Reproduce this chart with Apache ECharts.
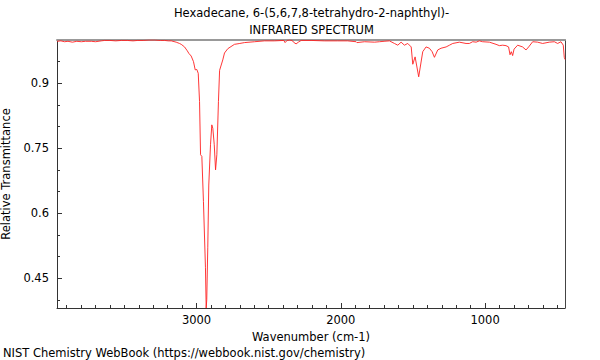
<!DOCTYPE html>
<html>
<head>
<meta charset="utf-8">
<script src="https://cdn.jsdelivr.net/npm/echarts@6/dist/echarts.min.js"></script>
<style>
html,body{margin:0;padding:0;background:#fff;}
#c{width:600px;height:360px;}
</style>
</head>
<body>
<div id="c"></div>
<script>
const titleLines = ["Hexadecane, 6-(5,6,7,8-tetrahydro-2-naphthyl)-", "INFRARED SPECTRUM"];
const footer = "NIST Chemistry WebBook (https://webbook.nist.gov/chemistry)";
const xName = "Wavenumber (cm-1)";
const yName = "Relative Transmittance";

const wavenumbers = [3967,3940,3915,3891,3860,3830,3798,3770,3729,3700,3660,3637,3600,3560,3521,3480,3440,3407,3370,3330,3291,3250,3222,3195,3175,3141,3118,3106,3083,3064,3053,3037,3021,3009,2998,2988,2979,2972,2963,2952,2938,2933,2929,2922,2915,2903,2894,2887,2877,2868,2859,2848,2840,2818,2806,2783,2737,2700,2668,2598,2529,2460,2395,2386,2372,2354,2337,2328,2310,2294,2275,2206,2114,2022,1953,1894,1888,1836,1766,1732,1700,1663,1628,1605,1582,1559,1536,1512,1501,1485,1460,1432,1409,1386,1367,1351,1328,1305,1270,1247,1224,1178,1132,1109,1086,1062,1040,1017,970,924,901,878,855,837,827,818,809,799,774,740,716,698,670,636,601,555,520,497,474,458,451,446];
const transmittance = [0.997,0.998,0.996,0.997,0.995,0.997,0.996,0.997,0.997,0.996,0.998,0.999,0.999,0.998,0.999,0.999,0.998,0.999,0.999,1.000,1.000,0.999,0.999,0.998,0.998,0.995,0.992,0.990,0.984,0.975,0.969,0.963,0.950,0.931,0.932,0.923,0.858,0.735,0.731,0.627,0.474,0.381,0.40,0.520,0.665,0.758,0.804,0.796,0.758,0.700,0.735,0.858,0.930,0.954,0.970,0.980,0.990,0.992,0.994,0.996,0.998,0.998,0.999,0.994,0.999,1.000,0.999,0.995,0.991,0.995,0.999,0.999,0.998,0.998,0.998,0.996,0.994,0.996,0.995,0.996,0.997,0.998,0.992,0.988,0.995,0.988,0.992,0.984,0.944,0.961,0.915,0.973,0.984,0.981,0.973,0.960,0.977,0.981,0.984,0.988,0.992,0.995,0.992,0.992,0.996,0.995,0.998,0.996,0.995,0.990,0.987,0.988,0.987,0.984,0.966,0.973,0.964,0.979,0.988,0.984,0.977,0.984,0.996,0.995,0.992,0.995,0.996,0.992,0.996,0.988,0.960,0.955];

const xMajor = [3000, 2000, 1000];
const xMinor = [500,600,700,800,900,1100,1200,1300,1400,1500,1600,1700,1800,1900,2100,2200,2300,2400,2500,2600,2700,2800,2900,3100,3200,3300,3400,3500,3600,3700,3800,3900];
const yMajor = [0.45, 0.6, 0.75, 0.9];
const yMinor = [0.4, 0.5, 0.55, 0.65, 0.7, 0.8, 0.85, 0.95];

const xMin = 446, xMax = 3967, yMin = 0.381, yMax = 1.0;
const FONT = 'DejaVu Sans';
const FS = 11.5;
const txt = '#000';

const data = wavenumbers.map((w, i) => [w, transmittance[i]]);

const chart = echarts.init(document.getElementById('c'), null, {renderer: 'svg'});
const baseX = {type: 'value', min: xMin, max: xMax, inverse: true, splitLine: {show: false}};
const baseY = {type: 'value', min: yMin, max: yMax, splitLine: {show: false}};
const font = FS + 'px "DejaVu Sans"';
chart.setOption({
  animation: false,
  backgroundColor: '#fff',
  grid: {left: 57, top: 40, width: 508, height: 268, containLabel: false, outerBoundsMode: 'none'},
  graphic: [
    {type: 'text', x: 311.5, y: 13, style: {text: titleLines[0], align: 'center', verticalAlign: 'middle', font: font, fill: txt}},
    {type: 'text', x: 311.5, y: 30, style: {text: titleLines[1], align: 'center', verticalAlign: 'middle', font: font, fill: txt}},
    {type: 'text', x: 3, y: 353, style: {text: footer, align: 'left', verticalAlign: 'middle', font: font, fill: txt}}
  ],
  xAxis: [
    Object.assign({}, baseX, {
      position: 'bottom',
      name: xName, nameLocation: 'middle', nameGap: 19,
      nameTextStyle: {fontFamily: FONT, fontSize: FS, color: txt},
      axisLine: {show: true, onZero: false, lineStyle: {color: '#333', width: 1}},
      axisTick: {show: true, inside: true, length: 5, customValues: xMajor, lineStyle: {color: '#333'}},
      axisLabel: {show: true, customValues: xMajor, margin: 6, fontFamily: FONT, fontSize: FS, color: txt, formatter: v => String(v)}
    }),
    Object.assign({}, baseX, {
      position: 'bottom',
      axisLine: {show: false, onZero: false},
      axisTick: {show: true, inside: true, length: 3, customValues: xMinor, lineStyle: {color: '#333'}},
      axisLabel: {show: false}
    }),
    Object.assign({}, baseX, {
      position: 'top',
      axisLine: {show: true, onZero: false, lineStyle: {color: '#999', width: 2}},
      axisTick: {show: false},
      axisLabel: {show: false}
    })
  ],
  yAxis: [
    Object.assign({}, baseY, {
      position: 'left',
      name: yName, nameLocation: 'middle', nameGap: 35, nameRotate: 90,
      nameTextStyle: {fontFamily: FONT, fontSize: FS, color: txt},
      axisLine: {show: true, onZero: false, lineStyle: {color: '#333', width: 1}},
      axisTick: {show: true, inside: true, length: 5, customValues: yMajor, lineStyle: {color: '#333'}},
      axisLabel: {show: true, customValues: yMajor, margin: 8, fontFamily: FONT, fontSize: FS, color: txt, formatter: v => String(v)}
    }),
    Object.assign({}, baseY, {
      position: 'left',
      axisLine: {show: false, onZero: false},
      axisTick: {show: true, inside: true, length: 3, customValues: yMinor, lineStyle: {color: '#333'}},
      axisLabel: {show: false}
    }),
    Object.assign({}, baseY, {
      position: 'right',
      axisLine: {show: true, onZero: false, lineStyle: {color: '#444', width: 1}},
      axisTick: {show: false},
      axisLabel: {show: false}
    })
  ],
  series: [{
    type: 'line',
    xAxisIndex: 0, yAxisIndex: 0,
    data: data,
    showSymbol: false,
    smooth: false,
    clip: true,
    lineStyle: {color: '#ff2020', width: 0.9},
    z: 1
  }]
});
</script>
</body>
</html>
